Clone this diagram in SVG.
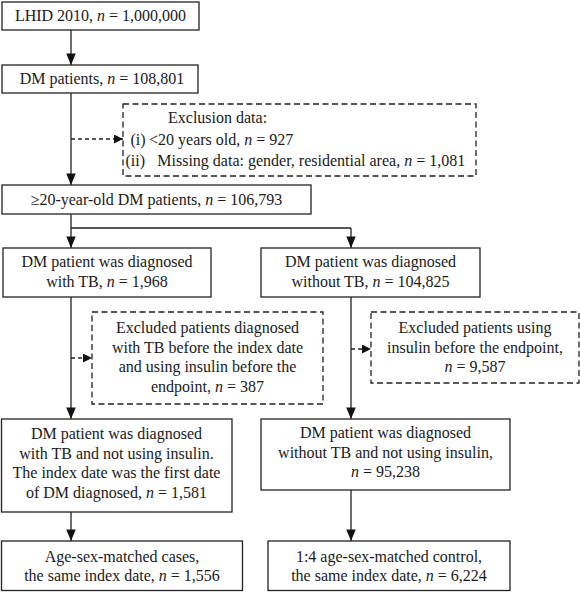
<svg xmlns="http://www.w3.org/2000/svg" width="580" height="592" viewBox="0 0 580 592">
<style>
.box{fill:#fff;stroke:#222;stroke-width:1.3}
.dbox{fill:#fff;stroke:#222;stroke-width:1.3;stroke-dasharray:6 3.5}
.ln{fill:none;stroke:#222;stroke-width:1.3}
.dln{fill:none;stroke:#222;stroke-width:1.3;stroke-dasharray:4 3}
text{font-family:"Liberation Serif","Times New Roman",serif;font-size:16px;fill:#1a1a1a}
.c{text-anchor:middle}
</style>
<defs>
<marker id="ah" viewBox="0 0 12 10" refX="12" refY="5" markerWidth="12" markerHeight="9.5" markerUnits="userSpaceOnUse" orient="auto">
<path d="M0,0 L12,5 L0,10 z" fill="#111"/>
</marker>
<marker id="ahs" viewBox="0 0 10 10" refX="10" refY="5" markerWidth="10" markerHeight="9" markerUnits="userSpaceOnUse" orient="auto">
<path d="M0,0 L10,5 L0,10 z" fill="#111"/>
</marker>
</defs>
<rect width="580" height="592" fill="#fff"/>
<g id="connectors">
<line class="ln" x1="71" y1="30" x2="71" y2="65" marker-end="url(#ah)"/>
<line class="ln" x1="71" y1="93" x2="71" y2="185" marker-end="url(#ah)"/>
<line class="dln" x1="71" y1="139" x2="123" y2="139" marker-end="url(#ahs)"/>
<polyline class="ln" points="71,214 71,228 351,228"/>
<line class="ln" x1="71" y1="228" x2="71" y2="248" marker-end="url(#ah)"/>
<line class="ln" x1="351" y1="228" x2="351" y2="248" marker-end="url(#ah)"/>
<line class="ln" x1="71" y1="297" x2="71" y2="419" marker-end="url(#ah)"/>
<line class="dln" x1="71" y1="358" x2="92" y2="358" marker-end="url(#ahs)"/>
<line class="ln" x1="351" y1="297" x2="351" y2="419" marker-end="url(#ah)"/>
<line class="dln" x1="351" y1="349" x2="371" y2="349" marker-end="url(#ahs)"/>
<line class="ln" x1="71" y1="512" x2="71" y2="541" marker-end="url(#ah)"/>
<line class="ln" x1="351" y1="490" x2="351" y2="541" marker-end="url(#ah)"/>
</g>
<g id="n1">
<rect class="box" x="2" y="2" width="197" height="28"/>
<text class="c" x="100.5" y="21">LHID 2010, <tspan font-style="italic">n</tspan> = 1,000,000</text>
</g>
<g id="n2">
<rect class="box" x="2" y="65" width="196" height="28"/>
<text class="c" x="102" y="84">DM patients, <tspan font-style="italic">n</tspan> = 108,801</text>
</g>
<g id="n_excl">
<rect class="dbox" x="123" y="104" width="353" height="72"/>
<text x="168" y="123">Exclusion data:</text>
<text x="130.5" y="145">(i)</text>
<text x="149" y="145">&lt;20 years old, <tspan font-style="italic">n</tspan> = 927</text>
<text x="125.5" y="166">(ii)</text>
<text x="157.3" y="166">Missing data: gender, residential area, <tspan font-style="italic">n</tspan> = 1,081</text>
</g>
<g id="n3">
<rect class="box" x="2" y="185" width="309" height="29"/>
<text class="c" x="156.5" y="205">≥20-year-old DM patients, <tspan font-style="italic">n</tspan> = 106,793</text>
</g>
<g id="n4">
<rect class="box" x="3" y="248" width="208" height="49"/>
<text class="c" x="107" y="267">DM patient was diagnosed</text>
<text class="c" x="107" y="287">with TB, <tspan font-style="italic">n</tspan> = 1,968</text>
</g>
<g id="n5">
<rect class="box" x="261" y="248" width="219" height="49"/>
<text class="c" x="370.5" y="267">DM patient was diagnosed</text>
<text class="c" x="370.5" y="287">without TB, <tspan font-style="italic">n</tspan> = 104,825</text>
</g>
<g id="n_excl2">
<rect class="dbox" x="92" y="312" width="231" height="92"/>
<text class="c" x="207.5" y="333">Excluded patients diagnosed</text>
<text class="c" x="207.5" y="352.5">with TB before the index date</text>
<text class="c" x="207.5" y="372">and using insulin before the</text>
<text class="c" x="207.5" y="392">endpoint, <tspan font-style="italic">n</tspan> = 387</text>
</g>
<g id="n_excl3">
<rect class="dbox" x="371" y="312" width="208" height="71"/>
<text class="c" x="475" y="333">Excluded patients using</text>
<text class="c" x="475" y="352.7">insulin before the endpoint,</text>
<text class="c" x="475" y="372"><tspan font-style="italic">n</tspan> = 9,587</text>
</g>
<g id="n6">
<rect class="box" x="1.5" y="419" width="230.5" height="93"/>
<text class="c" x="116.5" y="439">DM patient was diagnosed</text>
<text class="c" x="116.5" y="458.5">with TB and not using insulin.</text>
<text class="c" x="116.5" y="478">The index date was the first date</text>
<text class="c" x="116.5" y="497.5">of DM diagnosed, <tspan font-style="italic">n</tspan> = 1,581</text>
</g>
<g id="n7">
<rect class="box" x="261" y="419" width="249" height="71"/>
<text class="c" x="385.5" y="438">DM patient was diagnosed</text>
<text class="c" x="385.5" y="457.5">without TB and not using insulin,</text>
<text class="c" x="385.5" y="477"><tspan font-style="italic">n</tspan> = 95,238</text>
</g>
<g id="n8">
<rect class="box" x="1.5" y="541" width="241" height="49.5"/>
<text class="c" x="122" y="562">Age-sex-matched cases,</text>
<text class="c" x="122" y="581">the same index date, <tspan font-style="italic">n</tspan> = 1,556</text>
</g>
<g id="n9">
<rect class="box" x="268" y="541" width="242" height="49.5"/>
<text class="c" x="389" y="562">1:4 age-sex-matched control,</text>
<text class="c" x="389" y="581">the same index date, <tspan font-style="italic">n</tspan> = 6,224</text>
</g>
</svg>
